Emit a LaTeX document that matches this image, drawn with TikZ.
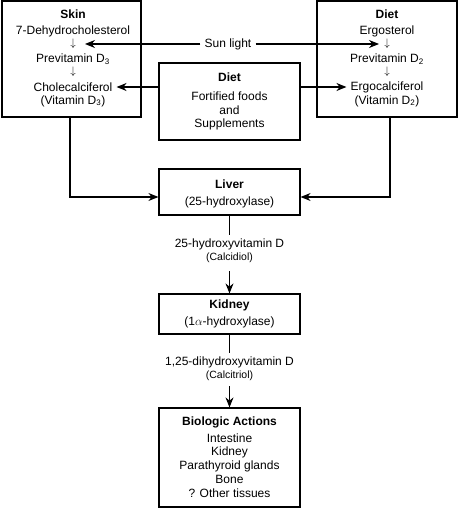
\documentclass[tikz,border=0pt]{standalone}
\usepackage{fontspec}
\setmainfont{Liberation Sans}
\usetikzlibrary{arrows.meta}
\begin{document}
\begin{tikzpicture}[x=1pt,y=-1pt,
  box/.style={draw,line width=1.2pt,inner sep=0pt,rectangle},
  txt/.style={inner sep=0pt,font=\fontsize{12}{13}\selectfont},
  txtb/.style={inner sep=0pt,font=\fontsize{12}{13}\selectfont\bfseries},
  txts/.style={inner sep=0pt,font=\fontsize{10.5}{11}\selectfont},
  darr/.style={inner sep=0pt,font=\fontsize{11}{11}\selectfont},
  conn/.style={line width=1.2pt},
  arr/.style={conn,-{Stealth[length=10pt,width=8pt]}}]
\useasboundingbox (0,0) rectangle (458,508);
% boxes
\node[box,minimum width=139pt,minimum height=116pt] (skin) at (71.5,59) {};
\node[box,minimum width=140pt,minimum height=116pt] (dietR) at (387,59) {};
\node[box,minimum width=141pt,minimum height=77pt] (dietM) at (229.5,101.5) {};
\node[box,minimum width=141pt,minimum height=46pt] (liver) at (229.5,192) {};
\node[box,minimum width=141pt,minimum height=40pt] (kidney) at (229.5,314) {};
\node[box,minimum width=141pt,minimum height=99pt] (bio) at (229.5,457.5) {};
% skin texts
\node[txtb] (skinT) at (73,14) {Skin};
\node[txt] (dehydro) at (73,31) {7-Dehydrocholesterol};
\node[darr] (skA1) at (73,44) {$\downarrow$};
\node[txt] (previtD3) at (73,59) {Previtamin D\textsubscript{3}};
\node[darr] (skA2) at (73,72) {$\downarrow$};
\node[txt] (chole) at (73,87) {Cholecalciferol};
\node[txt] (vitD3) at (73,101) {(Vitamin D\textsubscript{3})};
% right diet texts
\node[txtb] (dietRT) at (387,14) {Diet};
\node[txt] (ergost) at (387,31) {Ergosterol};
\node[darr] (drA1) at (387,44) {$\downarrow$};
\node[txt] (previtD2) at (387,59) {Previtamin D\textsubscript{2}};
\node[darr] (drA2) at (387,72) {$\downarrow$};
\node[txt] (ergo) at (387,87) {Ergocalciferol};
\node[txt] (vitD2) at (387,101) {(Vitamin D\textsubscript{2})};
% middle diet texts
\node[txtb] (dietMT) at (229.5,77) {Diet};
\node[txt] (fortified) at (229.5,96) {Fortified foods};
\node[txt] (andT) at (229.5,110) {and};
\node[txt] (suppl) at (229.5,124) {Supplements};
% sun light
\node[txt] (sun) at (228,44) {Sun light};
\coordinate (skTip) at (85,44);
\coordinate (drTip) at (379,44);
\draw[arr] ([xshift=-4pt]sun.west) -- (skTip);
\draw[arr] ([xshift=4pt]sun.east) -- (drTip);
% diet arrows
\draw[arr] (dietM.west |- chole) -- ([xshift=4pt]chole.east);
\draw[arr] (dietM.east |- ergo) -- ([xshift=-4pt]ergo.west);
% to liver
\draw[arr] ([xshift=-1.5pt]skin.south) |- ([yshift=-5pt]liver.west);
\draw[arr] ([xshift=3pt]dietR.south) |- ([yshift=-5pt]liver.east);
% liver
\node[txtb] (liverT) at (229.5,184) {Liver};
\node[txt] (liverE) at (229.5,202) {(25-hydroxylase)};
\node[txt] (calcidiolA) at (229.5,244) {25-hydroxyvitamin D};
\node[txts] (calcidiol) at (229.5,258) {(Calcidiol)};
\draw[conn] (liver.south) -- ([yshift=3pt]calcidiolA.north);
\draw[arr] ([yshift=-8pt]calcidiol.south) -- (kidney.north);
% kidney
\node[txtb] (kidneyT) at (229.5,305) {Kidney};
\node[txt] (kidneyE) at (229.5,322) {(1$\alpha$-hydroxylase)};
\node[txt] (calcitriolA) at (229.5,362) {1,25-dihydroxyvitamin D};
\node[txts] (calcitriol) at (229.5,376) {(Calcitriol)};
\draw[conn] (kidney.south) -- ([yshift=3pt]calcitriolA.north);
\draw[arr] ([yshift=-5pt]calcitriol.south) -- (bio.north);
% biologic actions
\node[txtb] (bioT) at (229.5,422) {Biologic Actions};
\node[txt] (intest) at (229.5,438) {Intestine};
\node[txt] (kid2) at (229.5,452) {Kidney};
\node[txt] (para) at (229.5,466) {Parathyroid glands};
\node[txt] (bone) at (229.5,479) {Bone};
\node[txt] (other) at (229.5,493) {? Other tissues};
\end{tikzpicture}
\end{document}
